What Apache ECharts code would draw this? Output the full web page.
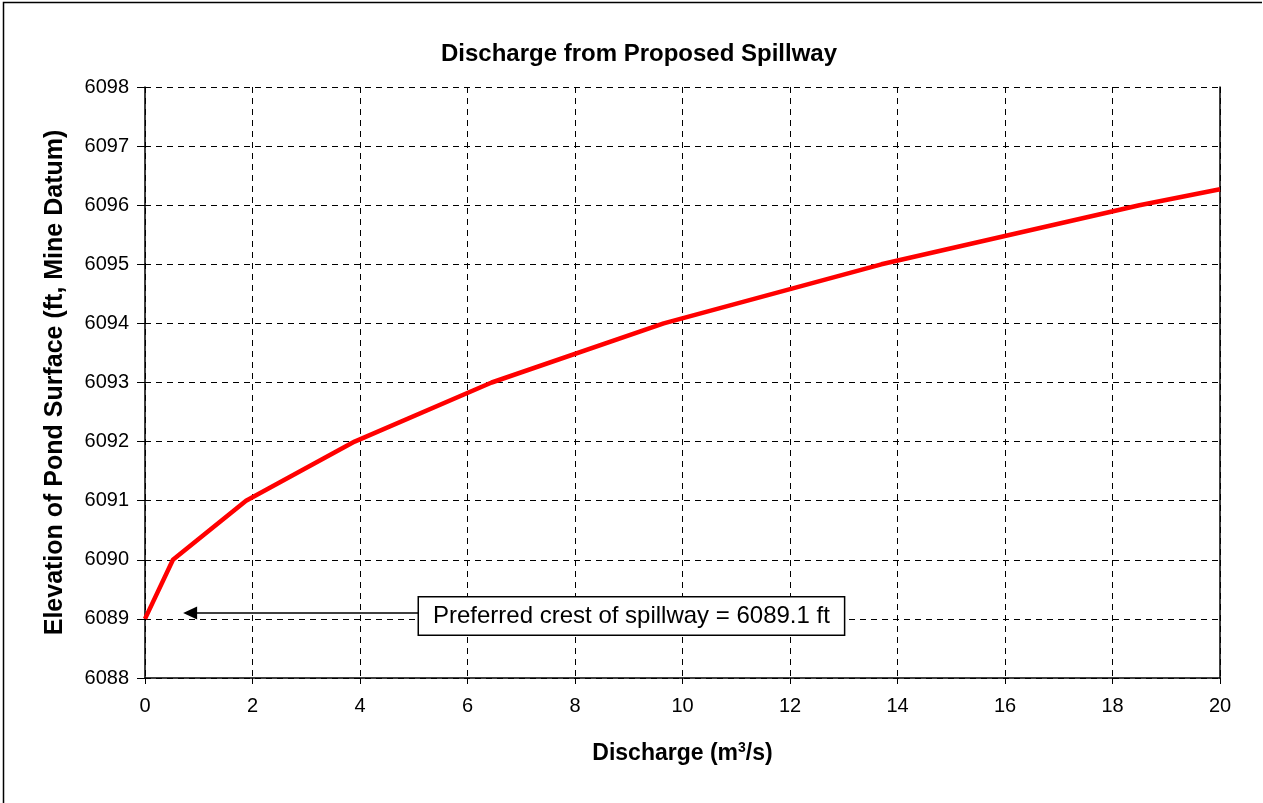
<!DOCTYPE html>
<html>
<head>
<meta charset="utf-8">
<script src="https://cdn.jsdelivr.net/npm/echarts@6/dist/echarts.min.js"></script>
<style>
html,body{margin:0;padding:0;background:#fff;}
#chart{width:1263px;height:803px;}
</style>
</head>
<body>
<div id="chart"></div>
<script>
// Data
const discharge = [0, 0.52, 1.88, 3.9, 6.45, 9.65, 13.7, 18.5, 20];
const elevation = [6089, 6090, 6091, 6092, 6093, 6094, 6095, 6096, 6096.27];
const crestElevation = 6089.1;
const crestLabel = 'Preferred crest of spillway = 6089.1 ft';
const arrowFromX = 5.08;
const arrowToX = 0.84;
const labelCenter = [9.05, 6089.05];

const FONT = '"Liberation Sans", Arial, sans-serif';
const chart = echarts.init(document.getElementById('chart'), null, {renderer: 'canvas'});
const pts = discharge.map((x, i) => [x, elevation[i]]);

chart.setOption({
  animation: false,
  backgroundColor: '#fff',
  title: {
    text: 'Discharge from Proposed Spillway',
    left: 634, top: 37, textAlign: 'center',
    textStyle: {fontFamily: FONT, fontSize: 24, fontWeight: 'bold', color: '#000'}
  },
  grid: {left: 145, right: 43, top: 87, bottom: 125, containLabel: false},
  xAxis: {
    type: 'value', min: 0, max: 20, interval: 2,
    name: 'Discharge (m{sup|3}/s)',
    nameLocation: 'middle', nameGap: 63,
    nameTextStyle: {
      fontFamily: FONT, fontSize: 23, fontWeight: 'bold', color: '#000',
      rich: {sup: {fontFamily: FONT, fontSize: 14, fontWeight: 'bold', color: '#000', verticalAlign: 'top', padding: [0,0,11,0]}}
    },
    axisLine: {show: true, onZero: false, lineStyle: {color: '#000', width: 1.5}},
    axisTick: {show: true, length: 6, lineStyle: {color: '#000', width: 1}},
    axisLabel: {fontFamily: FONT, fontSize: 20, color: '#000', margin: 18},
    splitLine: {show: true, lineStyle: {color: '#000', type: [6, 5], width: 1}}
  },
  yAxis: [{
    type: 'value', min: 6088, max: 6098, interval: 1,
    name: 'Elevation of Pond Surface (ft, Mine Datum)',
    nameLocation: 'middle', nameGap: 77, nameRotate: 90,
    nameTextStyle: {fontFamily: FONT, fontSize: 25, fontWeight: 'bold', color: '#000'},
    axisLine: {show: true, onZero: false, lineStyle: {color: '#000', width: 1.5}},
    axisTick: {show: true, length: 8, lineStyle: {color: '#000', width: 1}},
    axisLabel: {fontFamily: FONT, fontSize: 20, color: '#000', margin: 16, formatter: v => String(v)},
    splitLine: {show: true, lineStyle: {color: '#000', type: [6, 5], width: 1}}
  }, {
    type: 'value', min: 6088, max: 6098, interval: 1, position: 'right',
    axisLine: {show: true, onZero: false, lineStyle: {color: '#000', width: 1.5}},
    axisTick: {show: false}, axisLabel: {show: false}, splitLine: {show: false}
  }],
  series: [{
    type: 'line',
    data: pts,
    symbol: 'none',
    lineStyle: {color: '#ff0000', width: 4.5},
    clip: true,
    markLine: {
      silent: true,
      symbol: ['none', 'triangle'],
      symbolSize: [13, 14],
      label: {show: false},
      lineStyle: {color: '#000', width: 1.5, type: 'solid'},
      data: [[{coord: [arrowFromX, crestElevation]}, {coord: [arrowToX, crestElevation]}]]
    },
    markPoint: {
      silent: true,
      symbol: 'rect', symbolSize: 1,
      itemStyle: {color: 'rgba(0,0,0,0)'},
      label: {
        show: true, position: 'inside',
        formatter: crestLabel,
        fontFamily: FONT, fontSize: 24, color: '#000',
        backgroundColor: '#fff', borderColor: '#000', borderWidth: 1.5,
        padding: [7, 14, 6, 14]
      },
      data: [{coord: labelCenter}]
    }
  }],
  graphic: [{
    type: 'polyline',
    shape: {points: [[3.5, 820], [3.5, 2.5], [1262, 2.5]]},
    style: {stroke: '#000', lineWidth: 1.5, fill: null}
  }]
});
</script>
</body>
</html>
